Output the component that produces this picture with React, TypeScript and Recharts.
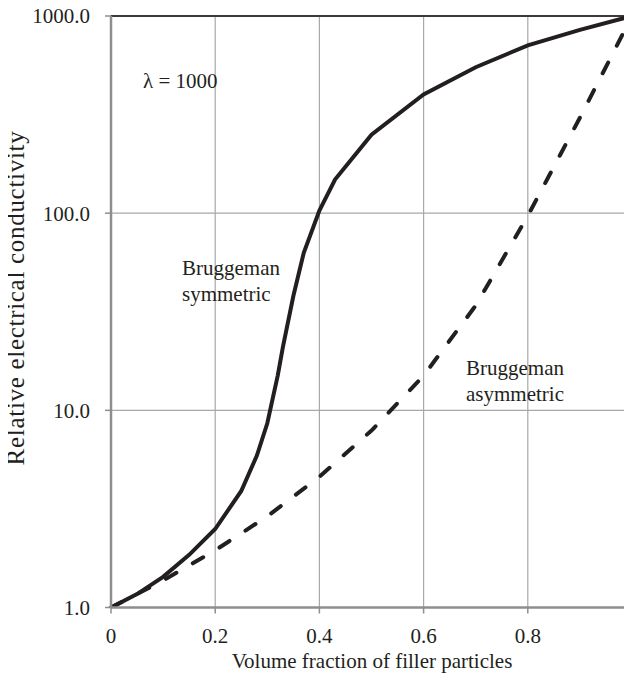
import { LineChart, Line, XAxis, YAxis, CartesianGrid, ReferenceLine, Customized } from 'recharts';

// Relative conductivity vs filler volume fraction, lambda = 1000
const symPhi = [0, 0.05, 0.1, 0.15, 0.2, 0.25, 0.28, 0.3, 0.32, 0.33, 0.35, 0.37, 0.4, 0.43, 0.5, 0.6, 0.7, 0.8, 0.9, 1.0];
const symSigma = [1, 1.17, 1.43, 1.85, 2.5, 3.9, 5.9, 8.6, 15, 21, 38, 63, 103, 148, 250, 400, 550, 710, 850, 1000];

const asymPhi = [0, 0.1, 0.2, 0.3, 0.4, 0.5, 0.6, 0.7, 0.8, 0.9, 1.0];
const asymSigma = [1, 1.37, 1.95, 2.9, 4.6, 7.9, 15, 34, 97, 305, 1000];

const xTicks = [0, 0.2, 0.4, 0.6, 0.8, 1];
const yTicks = [1, 10, 100, 1000];

const symData = symPhi.map((x, i) => ({ x, y: symSigma[i] }));
const asymData = asymPhi.map((x, i) => ({ x, y: asymSigma[i] }));

const INK = '#231f20';
const FONT = '"Liberation Serif", "DejaVu Serif", serif';
const FS = 21;

const fmtX = (v: number) => (v === 0 || v === 1 ? String(v) : v.toFixed(1));
const fmtY = (v: number) => v.toFixed(1);

function Annotations() {
  const t = { fill: INK, fontFamily: FONT, fontSize: FS };
  return (
    <g>
      <text x={143} y={88} {...t}>λ = 1000</text>
      <text x={182} y={275} {...t}>Bruggeman</text>
      <text x={182} y={301} {...t}>symmetric</text>
      <text x={466} y={375} {...t}>Bruggeman</text>
      <text x={466} y={401} {...t}>asymmetric</text>
      <text x={372} y={668} textAnchor="middle" {...t}>Volume fraction of filler particles</text>
      <text
        x={24} y={298} textAnchor="middle" transform="rotate(-90 24 298)"
        fill={INK} fontFamily={FONT} fontSize={25} letterSpacing={0.7}
      >
        Relative electrical conductivity
      </text>
    </g>
  );
}

export default function App() {
  const tick = { fill: INK, fontFamily: FONT, fontSize: FS };
  return (
    // cancel the body margin so the chart sits flush with the page
    <div style={{ margin: -8, width: 632, height: 682, overflow: 'hidden' }}>
      <LineChart width={670} height={682} margin={{ top: 16, right: 38, bottom: 0, left: 0 }}>
        <CartesianGrid stroke="#a8a8a8" strokeWidth={1.2} />
        <XAxis
          type="number" dataKey="x" domain={[0, 1]} ticks={xTicks} tickFormatter={fmtX}
          height={74.5} tickSize={6} tickMargin={14.5} tick={tick}
          axisLine={{ stroke: '#8e8e8e', strokeWidth: 2.5 }} tickLine={{ stroke: '#8e8e8e', strokeWidth: 1.5 }}
          interval={0}
        />
        <YAxis
          type="number" dataKey="y" scale="log" domain={[1, 1000]} ticks={yTicks} tickFormatter={fmtY}
          allowDataOverflow width={111} tickSize={6} tickMargin={15} tick={tick}
          axisLine={{ stroke: '#8e8e8e', strokeWidth: 2.5 }} tickLine={{ stroke: '#8e8e8e', strokeWidth: 1.5 }}
          interval={0}
        />
        <ReferenceLine y={1000} stroke="#3a3a3a" strokeWidth={2} />
        <Customized component={Annotations} />
        <Line
          data={asymData} dataKey="y" type="linear" stroke={INK} strokeWidth={4}
          strokeDasharray="12 19" strokeLinecap="round" dot={false} isAnimationActive={false}
        />
        <Line
          data={symData} dataKey="y" type="linear" stroke={INK} strokeWidth={4}
          dot={false} isAnimationActive={false}
        />
      </LineChart>
    </div>
  );
}
